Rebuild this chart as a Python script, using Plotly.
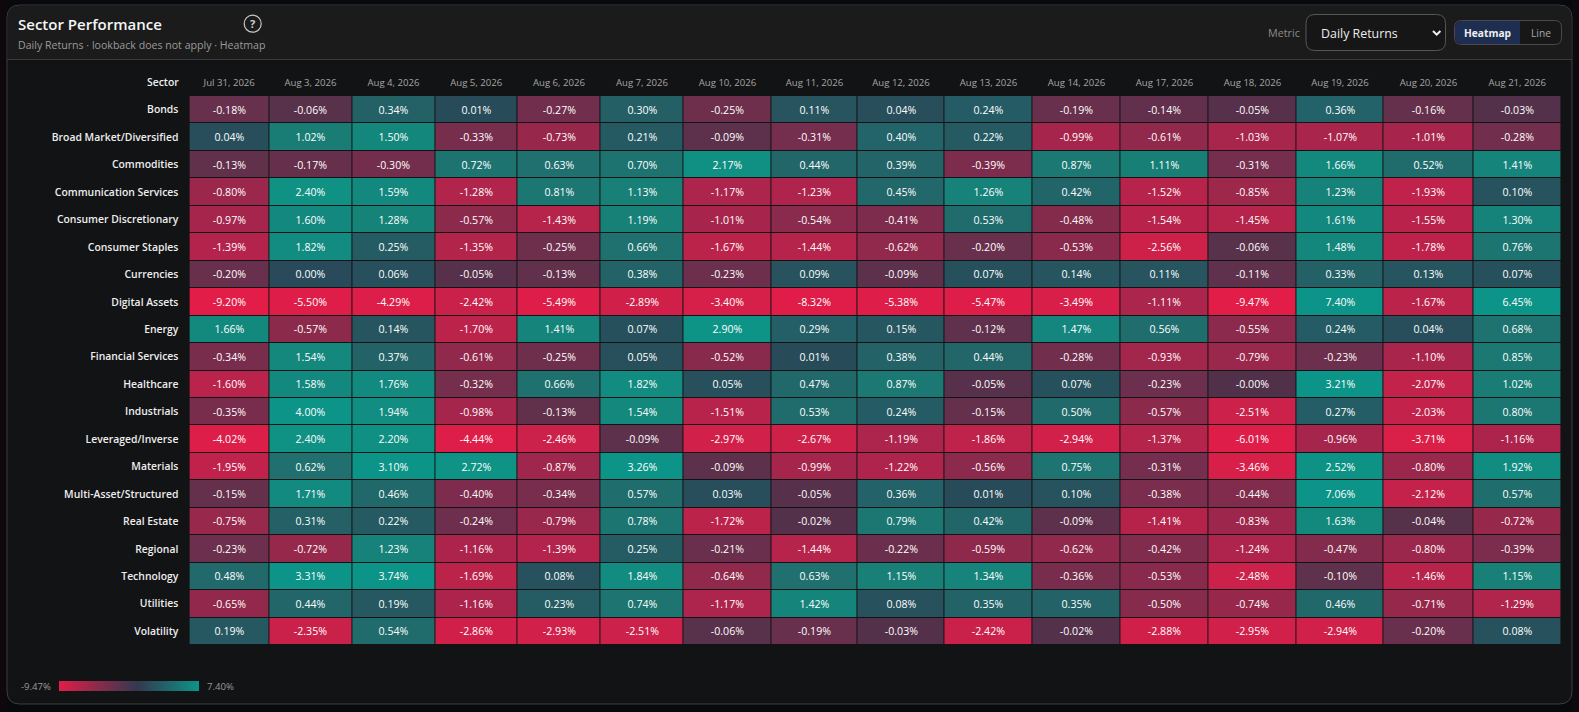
import plotly.graph_objects as go

W, H = 1579, 712

dates = ["Jul 31, 2026", "Aug 3, 2026", "Aug 4, 2026", "Aug 5, 2026", "Aug 6, 2026", "Aug 7, 2026",
         "Aug 10, 2026", "Aug 11, 2026", "Aug 12, 2026", "Aug 13, 2026", "Aug 14, 2026", "Aug 17, 2026",
         "Aug 18, 2026", "Aug 19, 2026", "Aug 20, 2026", "Aug 21, 2026"]
sectors = ["Bonds", "Broad Market/Diversified", "Commodities", "Communication Services",
           "Consumer Discretionary", "Consumer Staples", "Currencies", "Digital Assets", "Energy",
           "Financial Services", "Healthcare", "Industrials", "Leveraged/Inverse", "Materials",
           "Multi-Asset/Structured", "Real Estate", "Regional", "Technology", "Utilities", "Volatility"]

bonds = [-0.18, -0.06, 0.34, 0.01, -0.27, 0.30, -0.25, 0.11, 0.04, 0.24, -0.19, -0.14, -0.05, 0.36, -0.16, -0.03]
broad = [0.04, 1.02, 1.50, -0.33, -0.73, 0.21, -0.09, -0.31, 0.40, 0.22, -0.99, -0.61, -1.03, -1.07, -1.01, -0.28]
commodities = [-0.13, -0.17, -0.30, 0.72, 0.63, 0.70, 2.17, 0.44, 0.39, -0.39, 0.87, 1.11, -0.31, 1.66, 0.52, 1.41]
communication = [-0.80, 2.40, 1.59, -1.28, 0.81, 1.13, -1.17, -1.23, 0.45, 1.26, 0.42, -1.52, -0.85, 1.23, -1.93, 0.10]
discretionary = [-0.97, 1.60, 1.28, -0.57, -1.43, 1.19, -1.01, -0.54, -0.41, 0.53, -0.48, -1.54, -1.45, 1.61, -1.55, 1.30]
staples = [-1.39, 1.82, 0.25, -1.35, -0.25, 0.66, -1.67, -1.44, -0.62, -0.20, -0.53, -2.56, -0.06, 1.48, -1.78, 0.76]
currencies = [-0.20, 0.00, 0.06, -0.05, -0.13, 0.38, -0.23, 0.09, -0.09, 0.07, 0.14, 0.11, -0.11, 0.33, 0.13, 0.07]
digital = [-9.20, -5.50, -4.29, -2.42, -5.49, -2.89, -3.40, -8.32, -5.38, -5.47, -3.49, -1.11, -9.47, 7.40, -1.67, 6.45]
energy = [1.66, -0.57, 0.14, -1.70, 1.41, 0.07, 2.90, 0.29, 0.15, -0.12, 1.47, 0.56, -0.55, 0.24, 0.04, 0.68]
financial = [-0.34, 1.54, 0.37, -0.61, -0.25, 0.05, -0.52, 0.01, 0.38, 0.44, -0.28, -0.93, -0.79, -0.23, -1.10, 0.85]
healthcare = [-1.60, 1.58, 1.76, -0.32, 0.66, 1.82, 0.05, 0.47, 0.87, -0.05, 0.07, -0.23, -0.004, 3.21, -2.07, 1.02]
industrials = [-0.35, 4.00, 1.94, -0.98, -0.13, 1.54, -1.51, 0.53, 0.24, -0.15, 0.50, -0.57, -2.51, 0.27, -2.03, 0.80]
leveraged = [-4.02, 2.40, 2.20, -4.44, -2.46, -0.09, -2.97, -2.67, -1.19, -1.86, -2.94, -1.37, -6.01, -0.96, -3.71, -1.16]
materials = [-1.95, 0.62, 3.10, 2.72, -0.87, 3.26, -0.09, -0.99, -1.22, -0.56, 0.75, -0.31, -3.46, 2.52, -0.80, 1.92]
multi_asset = [-0.15, 1.71, 0.46, -0.40, -0.34, 0.57, 0.03, -0.05, 0.36, 0.01, 0.10, -0.38, -0.44, 7.06, -2.12, 0.57]
real_estate = [-0.75, 0.31, 0.22, -0.24, -0.79, 0.78, -1.72, -0.02, 0.79, 0.42, -0.09, -1.41, -0.83, 1.63, -0.04, -0.72]
regional = [-0.23, -0.72, 1.23, -1.16, -1.39, 0.25, -0.21, -1.44, -0.22, -0.59, -0.62, -0.42, -1.24, -0.47, -0.80, -0.39]
technology = [0.48, 3.31, 3.74, -1.69, 0.08, 1.84, -0.64, 0.63, 1.15, 1.34, -0.36, -0.53, -2.48, -0.10, -1.46, 1.15]
utilities = [-0.65, 0.44, 0.19, -1.16, 0.23, 0.74, -1.17, 1.42, 0.08, 0.35, 0.35, -0.50, -0.74, 0.46, -0.71, -1.29]
volatility = [0.19, -2.35, 0.54, -2.86, -2.93, -2.51, -0.06, -0.19, -0.03, -2.42, -0.02, -2.88, -2.95, -2.94, -0.20, 0.08]

rows = [bonds, broad, commodities, communication, discretionary, staples, currencies, digital, energy,
        financial, healthcare, industrials, leveraged, materials, multi_asset, real_estate, regional,
        technology, utilities, volatility]

zmin, zmax = -9.47, 7.40

# Colour ramp of the cells: non-linear and split at zero.
ramp = [(-9.47, "#e11d48"), (-4.0, "#dd1e49"), (-2.5, "#cc214a"), (-1.5, "#b8234b"), (-1.0, "#a7254c"),
        (-0.6, "#8f294c"), (-0.3, "#742e4d"), (-0.1, "#5e314c"), (0.0, "#503149"),
        (0.0, "#284a5a"), (0.1, "#27535e"), (0.3, "#245f66"), (0.6, "#1f6f6e"), (1.0, "#197d75"),
        (1.5, "#14877d"), (2.2, "#0f9083"), (3.0, "#0d9488"), (7.40, "#0d9488")]
colorscale = [[(v - zmin) / (zmax - zmin), c] for v, c in ramp]

# Auto-sized table columns, in px (the table gives date columns uneven widths).
column_widths = [79.6, 83, 83, 82.5, 83, 83, 88, 86, 87, 88, 88, 88, 88, 87, 90, 87.5]
edges = [0.0]
for w in column_widths:
    edges.append(edges[-1] + w)
centers = [(a + b) / 2 for a, b in zip(edges, edges[1:])]

GRID_L, GRID_R, GRID_T, GRID_B = 189.4, 189.4 + sum(column_widths), 96, 645
FONT = "Open Sans, Noto Sans, sans-serif"


def px(x):
    return x / W


def py(y):
    return 1 - y / H


def rr(x0, y0, x1, y1, r, corners=(1, 1, 1, 1)):
    tl, tr, br, bl = [r * c for c in corners]
    X, Y = px, py
    p = f"M{X(x0 + tl)},{Y(y0)} L{X(x1 - tr)},{Y(y0)} Q{X(x1)},{Y(y0)} {X(x1)},{Y(y0 + tr)} "
    p += f"L{X(x1)},{Y(y1 - br)} Q{X(x1)},{Y(y1)} {X(x1 - br)},{Y(y1)} "
    p += f"L{X(x0 + bl)},{Y(y1)} Q{X(x0)},{Y(y1)} {X(x0)},{Y(y1 - bl)} "
    p += f"L{X(x0)},{Y(y0 + tl)} Q{X(x0)},{Y(y0)} {X(x0 + tl)},{Y(y0)} Z"
    return p


def box(x0, y0, x1, y1, r, fill, line=None, lw=1, corners=(1, 1, 1, 1), layer="below"):
    return dict(type="path", xref="paper", yref="paper", path=rr(x0, y0, x1, y1, r, corners),
                fillcolor=fill, line=dict(color=line or "rgba(0,0,0,0)", width=lw if line else 0), layer=layer)


def label(x, y, text, size, color, anchor="left", weight=400):
    return dict(xref="paper", yref="paper", x=px(x), y=py(y), text=text, showarrow=False,
                xanchor=anchor, yanchor="middle", align=anchor, borderpad=0, borderwidth=0,
                font=dict(family=FONT, size=size, color=color, weight=weight))


shapes = [
    box(0, 0, 7, 712, 0, "#0e070b"),
    box(1572, 0, 1579, 712, 0, "#0d090e"),
    box(7, 5, 1572, 704, 13, "#121314", "#3b3e41"),
    box(7.5, 5.5, 1571.5, 59, 13, "#1b1b1b", None, corners=(1, 1, 0, 0)),
    dict(type="line", xref="paper", yref="paper", x0=px(7), x1=px(1572), y0=py(59.5), y1=py(59.5),
         line=dict(color="#3a3a3a", width=1), layer="below"),
    dict(type="circle", xref="paper", yref="paper", x0=px(244.2), x1=px(261.2), y0=py(15.2), y1=py(32.2),
         line=dict(color="#c9c9c9", width=1.2), fillcolor="rgba(0,0,0,0)"),
    box(1306, 14.5, 1445.5, 50.5, 9, "#161616", "#565656"),
    dict(type="path", xref="paper", yref="paper",
         path=f"M{px(1433)},{py(31)} L{px(1436.7)},{py(34.7)} L{px(1440.4)},{py(31)}",
         line=dict(color="#f0f0f0", width=2), fillcolor="rgba(0,0,0,0)"),
    box(1454.5, 20.5, 1561.5, 44.5, 7, "#171717", "#4a4a4a"),
    box(1455, 21, 1520, 44, 7, "#1e2d52", None, corners=(1, 0, 0, 1)),
]

annotations = [
    label(18, 23.5, "Sector Performance", 15, "#f5f5f5", weight=600),
    label(18, 44.5, "Daily Returns · lookback does not apply · Heatmap", 10.6, "#9a9a9a"),
    label(252.7, 23.7, "?", 11, "#d0d0d0", "center", 700),
    label(1300, 32, "Metric", 10.8, "#8a8a8a", "right"),
    label(1321, 33.5, "Daily Returns", 12.4, "#ececec"),
    label(1487.5, 33, "Heatmap", 10.2, "#f0f0f0", "center", 700),
    label(1541, 33, "Line", 10.2, "#a8a8a8", "center"),
    label(179, 81.5, "Sector", 10.4, "#eeeeee", "right", 600),
    label(50.5, 686.5, "-9.47%", 9.6, "#9a9a9a", "right"),
    label(206.5, 686.5, "7.40%", 9.6, "#9a9a9a"),
]

text = [[f"{v:.2f}%" for v in r] for r in rows]

heatmap = go.Heatmap(
    z=rows, x=edges, y=sectors, text=text, texttemplate="%{text}",
    textfont=dict(family=FONT, size=10.6, color="#ffffff"),
    colorscale=colorscale, zmin=zmin, zmax=zmax, showscale=False,
    xgap=1, ygap=1, hovertemplate="%{y}<br>%{text}<extra></extra>",
)

# The legend gradient is the colourbar of an invisible marker.
legend_key = go.Scatter(
    x=[edges[0]], y=[sectors[0]], mode="markers", hoverinfo="skip", showlegend=False,
    marker=dict(
        size=1, opacity=0, cmin=zmin, cmax=zmax, color=[zmin], showscale=True,
        colorscale=[[0, "#e11d48"], [0.56, "#33394f"], [1, "#0d9488"]],
        colorbar=dict(orientation="h", x=px(59), xanchor="left", y=py(691), yanchor="bottom",
                      lenmode="pixels", len=140, thicknessmode="pixels", thickness=10,
                      xpad=0, ypad=0, outlinewidth=0, ticks="", showticklabels=False),
    ),
)

fig = go.Figure([heatmap, legend_key])
fig.update_layout(
    width=W, height=H, margin=dict(l=0, r=0, t=0, b=0), autosize=False,
    paper_bgcolor="#07090d", plot_bgcolor="#0b0b0c",
    font=dict(family=FONT, color="#dddddd"),
    shapes=shapes, annotations=annotations, showlegend=False,
    xaxis=dict(domain=[px(GRID_L), px(GRID_R)], range=[edges[0], edges[-1]], side="top",
               tickmode="array", tickvals=centers, ticktext=dates, ticks="", ticklabelstandoff=7,
               tickfont=dict(family=FONT, size=9.6, color="#a6a6a6"),
               showgrid=False, zeroline=False, showline=False, automargin=False, fixedrange=True),
    yaxis=dict(domain=[py(GRID_B), py(GRID_T)], range=[len(sectors) - 0.5, -0.5], type="category",
               categoryorder="array", categoryarray=sectors,
               ticks="", ticklabelstandoff=10,
               tickfont=dict(family=FONT, size=10.4, color="#eeeeee", weight=600),
               showgrid=False, zeroline=False, showline=False, automargin=False, fixedrange=True),
)

fig.write_html("out.html", config={"displayModeBar": False},
               post_script="document.body.style.margin='0';document.body.style.overflow='hidden';")
